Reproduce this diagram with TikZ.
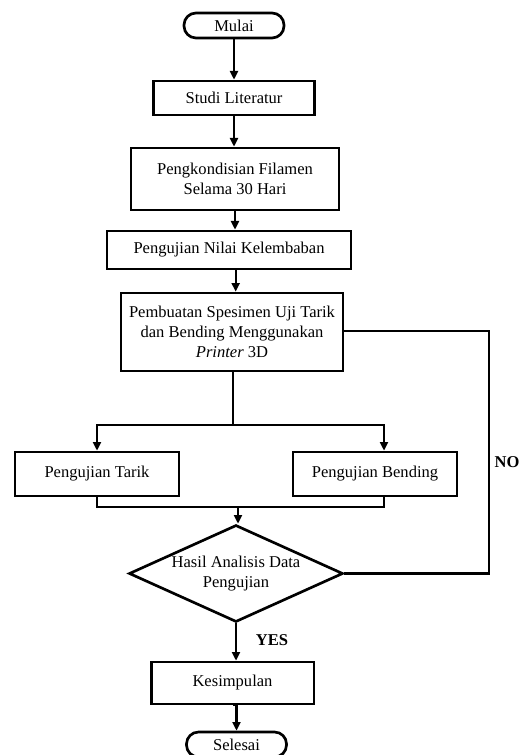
\documentclass[tikz,border=0pt]{standalone}
\usepackage{fontspec}
\setmainfont{Liberation Serif}
\usepackage{tikz}
\usetikzlibrary{arrows.meta,shapes.geometric}

\begin{document}
\begin{tikzpicture}[x=0.75pt, y=-0.75pt,
        font=\fontsize{12.4}{15}\selectfont,
        proses/.style={draw, line width=2pt, rectangle, align=center, inner sep=0pt},
        terminal/.style={draw, line width=2pt, rectangle, rounded corners=9pt, inner sep=0pt,
            minimum width=75pt, minimum height=18.75pt},
        keputusan/.style={draw, line width=2pt, diamond, align=center, inner sep=0pt,
            aspect=2.2, minimum width=160.5pt, minimum height=72.75pt},
        garis/.style={line width=1.6pt},
        panah/.style={garis, -{Triangle[length=6.5pt, width=6pt]}},
        ket/.style={font=\fontsize{12.4}{15}\selectfont\bfseries}]
        \useasboundingbox (0,0) rectangle (523,755);
        \node[terminal](mulai) at (234,25.5) {Mulai};
        \node[proses, minimum width=120.75pt, minimum height=25.5pt](studi) at (234,98) {Studi Literatur};
        \node[proses, minimum width=156pt, minimum height=46.5pt](kondisi) at (235,179)
            {Pengkondisian Filamen\\Selama 30 Hari};
        \node[proses, minimum width=183pt, minimum height=28.5pt](nilai) at (229,250) {Pengujian Nilai Kelembaban};
        \node[proses, minimum width=166.5pt, minimum height=58.5pt](buat) at (232,332)
            {Pembuatan Spesimen Uji Tarik\\dan Bending Menggunakan\\\textit{Printer} 3D};
        \node[proses, minimum width=123pt, minimum height=33pt](tarik) at (97,474) {Pengujian Tarik};
        \node[proses, minimum width=123pt, minimum height=33pt](bending) at (375,474) {Pengujian Bending};
        \node[keputusan](hasil) at (236,573.5) {Hasil Analisis Data\\Pengujian};
        \node[proses, minimum width=122pt, minimum height=31.5pt](kesimpulan) at (232.5,683) {Kesimpulan};
        \node[terminal](selesai) at (236.5,744.5) {Selesai};
        \node[ket](yes) at (272,640) {YES};
        \node[ket](no) at (507,462) {NO};
        \coordinate (bagi) at (233,425);
        \coordinate (gabung) at (238,507);
        \coordinate (kanan) at (489,331);
        % alur utama
        \draw[panah] (mulai.south) -- (mulai.south |- studi.north);
        \draw[panah] (studi.south) -- (studi.south |- kondisi.north);
        \draw[panah] (kondisi.south) -- (kondisi.south |- nilai.north);
        \draw[panah] ([xshift=5pt]nilai.south) -- ([xshift=5pt]nilai.south |- buat.north);
        \draw[garis] (buat.south -| bagi) -- (bagi);
        \draw[panah] (bagi) -| (tarik.north);
        \draw[panah] (bagi) -| ([xshift=6.75pt]bending.north);
        \draw[garis] (tarik.south) |- (gabung);
        \draw[garis] ([xshift=6.75pt]bending.south) |- (gabung);
        \draw[panah] (gabung) -- (gabung |- hasil.north);
        \draw[panah] (hasil.south) -- (hasil.south |- kesimpulan.north);
        \draw[panah] (kesimpulan.south) -- (kesimpulan.south -| selesai.north) -- (selesai.north);
        % kembali jika NO
        \draw[garis] (buat.east |- kanan) -- (kanan) |- (hasil.east);
\end{tikzpicture}
\end{document}
